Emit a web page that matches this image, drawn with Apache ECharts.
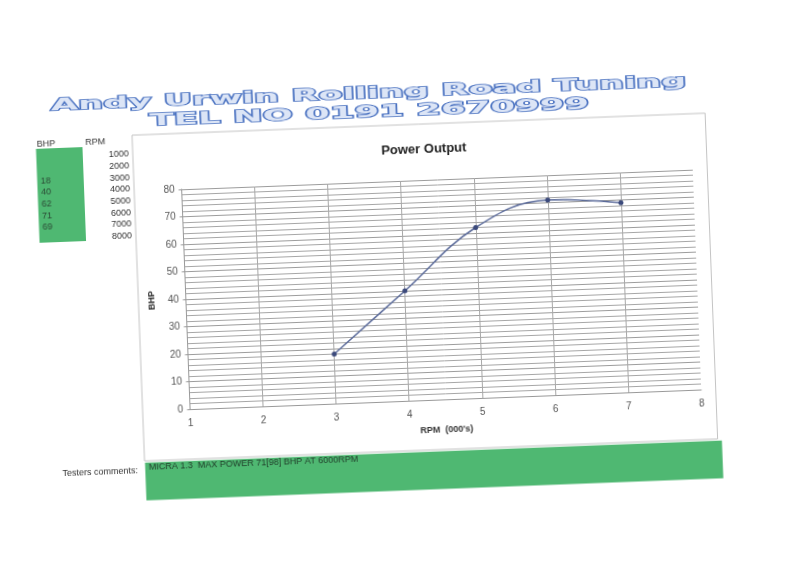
<!DOCTYPE html>
<html>
<head>
<meta charset="utf-8">
<script src="https://cdn.jsdelivr.net/npm/echarts@6/dist/echarts.min.js"></script>
<style>
html,body{margin:0;padding:0;background:#ffffff;overflow:hidden;}
#wrap{position:absolute;left:0;top:0;width:800px;height:571px;transform:rotate(-2.2deg);transform-origin:400px 285.5px;}
#chart{width:800px;height:571px;}
</style>
</head>
<body>
<div id="wrap"><div id="chart"></div></div>
<script>
// ---- data ----
const headerLine1 = 'Andy Urwin Rolling Road Tuning';
const headerLine2 = 'TEL NO 0191 2670999';
const chartTitle = 'Power Output';
const yAxisName = 'BHP';
const xAxisName = "RPM  (000's)";
const rpmTable = ['1000', '2000', '3000', '4000', '5000', '6000', '7000', '8000'];
const rpmThousands = [3, 4, 5, 6, 7];
const bhpValues = [18, 40, 62, 71, 69];
const commentsLabel = 'Testers comments:';
const commentsText = 'MICRA 1.3  MAX POWER 71[98] BHP AT 6000RPM';

// ---- helpers ----
function textWidth(t, font) {
  const c = document.createElement('canvas').getContext('2d');
  c.font = font;
  return c.measureText(t).width;
}
const hdrFont = 'bold 16px "DejaVu Sans"';
const s1 = 636 / textWidth(headerLine1, hdrFont);
const s2 = 440 / textWidth(headerLine2, hdrFont);
const tblFont = '"Liberation Sans", Arial, sans-serif';
const green = '#4fb872';

const rowY0 = 143.7, rowH = 11.7;
const graphics = [];
// chart frame
graphics.push({type:'rect', z:-1, shape:{x:138, y:125, width:573.5, height:326}, style:{fill:'none', stroke:'#c4c4c4', lineWidth:1}});
// header
function hdr(text, y, s) {
  return {type:'text', x:376, y:y, scaleX:s, z:10,
    style:{text:text, font:hdrFont, textAlign:'center', textVerticalAlign:'middle',
      fill:'#dce5f6', stroke:'#4870c0', lineWidth:1.6,
      shadowColor:'rgba(60,90,160,0.6)', shadowOffsetX:1, shadowOffsetY:1.5, shadowBlur:1}};
}
graphics.push(hdr(headerLine1, 92.5, s1));
graphics.push(hdr(headerLine2, 112, s2));
// left table
graphics.push({type:'rect', shape:{x:41.5, y:135, width:46.5, height:94}, style:{fill:green}});
graphics.push({type:'text', x:42.5, y:131, style:{text:'BHP', fontFamily:tblFont, fontSize:9, fill:'#333', textAlign:'left', textVerticalAlign:'middle'}});
graphics.push({type:'text', x:101, y:130.4, style:{text:'RPM', fontFamily:tblFont, fontSize:9, fill:'#333', textAlign:'center', textVerticalAlign:'middle'}});
rpmTable.forEach((r, i) => {
  graphics.push({type:'text', x:134, y:rowY0 + i*rowH, style:{text:r, fontFamily:tblFont, fontSize:9, fill:'#333', textAlign:'right', textVerticalAlign:'middle'}});
});
bhpValues.forEach((v, i) => {
  const row = rpmTable.indexOf(String(rpmThousands[i]*1000));
  graphics.push({type:'text', x:45, y:rowY0 + row*rowH, style:{text:String(v), fontFamily:tblFont, fontSize:9, fill:'#2b4a35', textAlign:'left', textVerticalAlign:'middle'}});
});
// comments
graphics.push({type:'text', x:131, y:461, style:{text:commentsLabel, fontFamily:tblFont, fontSize:9, fill:'#333', textAlign:'right', textVerticalAlign:'middle'}});
graphics.push({type:'rect', shape:{x:138.4, y:452.8, width:577.3, height:37.8}, style:{fill:green}});
graphics.push({type:'text', x:142, y:458, style:{text:commentsText, fontFamily:tblFont, fontSize:9, fill:'#1f3a28', textAlign:'left', textVerticalAlign:'middle'}});

const chart = echarts.init(document.getElementById('chart'), null, {renderer:'canvas'});
chart.setOption({
  backgroundColor:'#ffffff',
  animation:false,
  title:{text:chartTitle, left:424, top:139, textAlign:'center',
    textStyle:{fontFamily:tblFont, fontSize:13, fontWeight:'bold', color:'#222'}},
  grid:{left:185.5, top:181, right:103, bottom:170, containLabel:false},
  xAxis:{type:'value', min:1, max:8, interval:1,
    name:xAxisName, nameLocation:'middle', nameGap:26,
    nameTextStyle:{fontFamily:tblFont, fontSize:9, fontWeight:'bold', color:'#333'},
    axisLine:{show:true, lineStyle:{color:'#999', width:1}},
    axisTick:{show:false},
    axisLabel:{fontFamily:tblFont, fontSize:10, color:'#555', margin:9},
    splitLine:{show:true, showMinLine:false, showMaxLine:false, lineStyle:{color:'#a8a8a8', width:1}}},
  yAxis:{type:'value', min:0, max:80, interval:10,
    name:yAxisName, nameLocation:'middle', nameGap:23, nameRotate:90,
    nameTextStyle:{fontFamily:tblFont, fontSize:9, fontWeight:'bold', color:'#333'},
    axisLine:{show:true, lineStyle:{color:'#999', width:1}},
    axisTick:{show:true, length:3, lineStyle:{color:'#999'}},
    axisLabel:{fontFamily:tblFont, fontSize:10, color:'#555', margin:7},
    splitLine:{show:true, lineStyle:{color:'#9c9c9c', width:1}},
    minorSplitLine:{show:true, lineStyle:{color:'#a6a6a6', width:1}},
    minorTick:{show:false, splitNumber:5}},
  series:[{type:'line', data:rpmThousands.map((x, i) => [x, bhpValues[i]]),
    smooth:0.4, symbol:'circle', symbolSize:5, showSymbol:true,
    lineStyle:{color:'#5a6a9a', width:1.5},
    itemStyle:{color:'#3c4a7c'}}],
  graphic:graphics
});
</script>
</body>
</html>
